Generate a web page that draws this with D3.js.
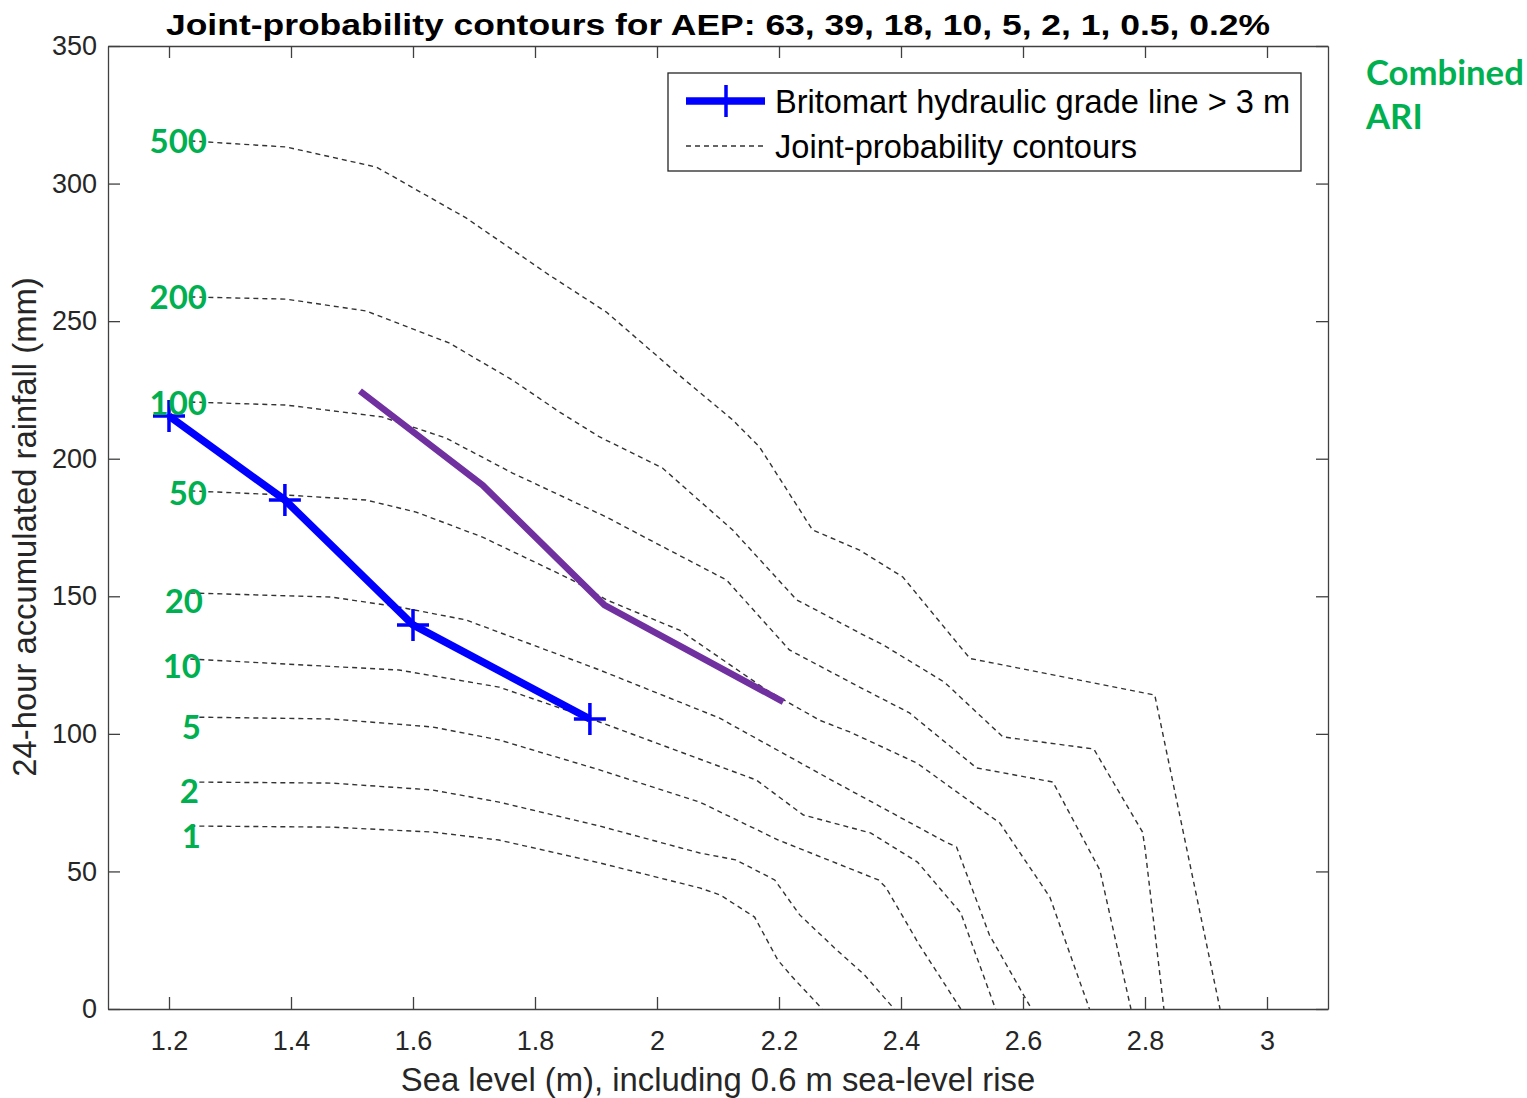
<!DOCTYPE html>
<html><head><meta charset="utf-8">
<script src="https://cdn.jsdelivr.net/npm/d3@7/dist/d3.min.js"></script>
<style>body{margin:0;background:#fff}svg{display:block}</style>
</head><body>
<svg id="chart" width="1527" height="1098"></svg>
<script>
// ---------- DATA ----------
const titleText = "Joint-probability contours for AEP: 63, 39, 18, 10, 5, 2, 1, 0.5, 0.2%";
const xLabel = "Sea level (m), including 0.6 m sea-level rise";
const yLabel = "24-hour accumulated rainfall (mm)";
const xTicks = [1.2, 1.4, 1.6, 1.8, 2, 2.2, 2.4, 2.6, 2.8, 3];
const xTickLabels = ["1.2", "1.4", "1.6", "1.8", "2", "2.2", "2.4", "2.6", "2.8", "3"];
const yTicks = [0, 50, 100, 150, 200, 250, 300, 350];
const legendLabels = ["Britomart hydraulic grade line > 3 m", "Joint-probability contours"];
const ariTitle = ["Combined", "ARI"];
const ariLabels = ["500", "200", "100", "50", "20", "10", "5", "2", "1"];

const contour500 = [[1.235,315.5],[1.392,313.3],[1.540,306.0],[1.687,287.5],[1.823,266.8],[1.917,253.3],[2.042,229.3],[2.124,214.1],[2.168,204.3],[2.255,174.1],[2.332,166.8],[2.403,157.0],[2.513,127.4],[2.816,114.1],[2.923,0]];
const contour200 = [[1.235,258.8],[1.392,258.0],[1.523,253.7],[1.659,242.1],[1.763,228.6],[1.840,217.0],[1.906,207.9],[2.009,196.6],[2.124,174.1],[2.229,148.7],[2.332,136.7],[2.371,132.3],[2.471,118.8],[2.567,98.9],[2.716,94.5],[2.796,64.3],[2.800,58.5],[2.831,0]];
const contour100 = [[1.235,220.6],[1.392,219.5],[1.549,215.2],[1.615,210.4],[1.654,207.5],[1.763,194.8],[1.840,186.8],[1.917,178.8],[1.988,170.5],[2.114,155.9],[2.217,130.5],[2.332,117.0],[2.414,107.6],[2.524,87.6],[2.649,82.5],[2.726,50.5],[2.777,0]];
const contour50 = [[1.235,188.3],[1.392,186.8],[1.523,185.0],[1.605,180.6],[1.714,171.5],[1.861,155.9],[1.917,148.7],[2.037,137.7],[2.180,115.9],[2.266,105.0],[2.316,100.7],[2.426,89.4],[2.562,67.6],[2.644,40.7],[2.709,0]];
const contour20 = [[1.235,151.2],[1.467,149.7],[1.577,146.1],[1.687,141.4],[1.840,128.7],[1.906,123.2],[2.102,105.8],[2.286,83.2],[2.473,60.7],[2.491,58.9],[2.545,26.9],[2.614,0]];
const contour10 = [[1.235,127.2],[1.577,123.2],[1.741,117.0],[1.884,106.1],[2.163,83.2],[2.240,70.5],[2.350,64.0],[2.427,53.4],[2.498,34.9],[2.555,0]];
const contour5 = [[1.235,106.1],[1.467,105.4],[1.632,102.5],[1.741,97.8],[1.906,86.9],[2.070,75.2],[2.199,61.4],[2.363,46.9],[2.375,44.3],[2.430,23.3],[2.498,0]];
const contour2 = [[1.235,82.5],[1.467,82.1],[1.632,79.6],[1.741,75.2],[1.906,66.5],[2.070,56.7],[2.129,54.2],[2.193,46.9],[2.234,34.2],[2.291,22.2],[2.340,12.4],[2.389,0]];
const contour1 = [[1.235,66.5],[1.467,66.1],[1.632,64.3],[1.741,61.4],[1.906,53.1],[2.070,44.0],[2.104,41.4],[2.160,33.4],[2.198,17.8],[2.222,11.6],[2.271,0]];

const hglSeaLevel = [1.2, 1.39, 1.6, 1.89];
const hglRainfall = [215.5, 185.0, 139.6, 105.4];
const purpleSeaLevel = [1.513, 1.714, 1.914, 2.207];
const purpleRainfall = [224.6, 190.4, 146.8, 111.6];

// ---------- LAYOUT / STYLE ----------
const contours = [contour500, contour200, contour100, contour50, contour20, contour10, contour5, contour2, contour1];
const labelNudge = [0, 0, 1, 2, 8, 7, 10, 9, 10];
const labelRight = [207, 207, 207, 207, 203, 201, 201, 199, 201];
const svg = d3.select("#chart");
const L = 108, R = 1328, T = 46, B = 1009;
const x = d3.scaleLinear().domain([1.1, 3.1]).range([L, R]);
const y = d3.scaleLinear().domain([0, 350]).range([B, T]);
const axisColor = "#404040";
const font = "'Liberation Sans', Arial, Helvetica, sans-serif";
const green = "#00B050";

svg.append("rect").attr("x", 0).attr("y", 0).attr("width", 1527).attr("height", 1098).attr("fill", "#fff");

// contours
const line = d3.line().x(d => x(d[0])).y(d => y(d[1]));
svg.append("g").selectAll("path").data(contours).join("path")
  .attr("d", line)
  .attr("fill", "none").attr("stroke", "#333").attr("stroke-width", 1.4)
  .attr("stroke-dasharray", "5,4");

// purple line
const purple = purpleSeaLevel.map((v, i) => [v, purpleRainfall[i]]);
svg.append("path").attr("d", line(purple)).attr("fill", "none")
  .attr("stroke", "#7030A0").attr("stroke-width", 6.5).attr("stroke-linejoin", "round");

// blue HGL line
const hgl = hglSeaLevel.map((v, i) => [v, hglRainfall[i]]);
svg.append("path").attr("d", line(hgl)).attr("fill", "none")
  .attr("stroke", "#0000FF").attr("stroke-width", 7.5).attr("stroke-linejoin", "miter");
const plus = 16;
svg.append("g").selectAll("path.m").data(hgl).join("path")
  .attr("d", d => `M${x(d[0]) - plus},${y(d[1])}H${x(d[0]) + plus}M${x(d[0])},${y(d[1]) - plus}V${y(d[1]) + plus}`)
  .attr("stroke", "#0000FF").attr("stroke-width", 3.5).attr("fill", "none");

// axes
const gx = svg.append("g").attr("transform", `translate(0,${B})`)
  .call(d3.axisBottom(x).tickValues(xTicks).tickFormat((d, i) => xTickLabels[i]).tickSizeInner(-12).tickSizeOuter(0).tickPadding(22));
const gxt = svg.append("g").attr("transform", `translate(0,${T})`)
  .call(d3.axisTop(x).tickValues(xTicks).tickFormat("").tickSizeInner(-12).tickSizeOuter(0));
const gy = svg.append("g").attr("transform", `translate(${L},0)`)
  .call(d3.axisLeft(y).tickValues(yTicks).tickSizeInner(-12).tickSizeOuter(0).tickPadding(11));
const gyr = svg.append("g").attr("transform", `translate(${R},0)`)
  .call(d3.axisRight(y).tickValues(yTicks).tickFormat("").tickSizeInner(-12).tickSizeOuter(0));
[gx, gxt, gy, gyr].forEach(g => {
  g.select(".domain").attr("stroke", axisColor).attr("stroke-width", 1.3);
  g.selectAll(".tick line").attr("stroke", axisColor).attr("stroke-width", 1.3);
  g.selectAll(".tick text").attr("fill", "#262626").attr("font-family", font).attr("font-size", 27);
});

// title & axis labels
svg.append("text").attr("x", 718).attr("y", 35).attr("text-anchor", "middle")
  .attr("font-family", font).attr("font-weight", "bold").attr("font-size", 29)
  .attr("textLength", 1104).attr("lengthAdjust", "spacingAndGlyphs")
  .attr("fill", "#000").text(titleText);
svg.append("text").attr("x", 718).attr("y", 1091).attr("text-anchor", "middle")
  .attr("font-family", font).attr("font-size", 32.8).attr("fill", "#262626").text(xLabel);
svg.append("text").attr("transform", "translate(36,527) rotate(-90)").attr("text-anchor", "middle")
  .attr("font-family", font).attr("font-size", 32.8).attr("fill", "#262626").text(yLabel);

// legend
const lg = svg.append("g");
lg.append("rect").attr("x", 668).attr("y", 73).attr("width", 633).attr("height", 98)
  .attr("fill", "#fff").attr("stroke", "#262626").attr("stroke-width", 1.3);
lg.append("line").attr("x1", 686).attr("x2", 765).attr("y1", 101).attr("y2", 101)
  .attr("stroke", "#0000FF").attr("stroke-width", 7.5);
lg.append("path").attr("d", `M${726 - plus},101H${726 + plus}M726,${101 - plus}V${101 + plus}`)
  .attr("stroke", "#0000FF").attr("stroke-width", 3.5);
lg.append("line").attr("x1", 686).attr("x2", 765).attr("y1", 146).attr("y2", 146)
  .attr("stroke", "#333").attr("stroke-width", 1.3).attr("stroke-dasharray", "5,4");
lg.selectAll("text").data(legendLabels).join("text")
  .attr("x", 775).attr("y", (d, i) => 113 + i * 45)
  .attr("font-family", font).attr("font-size", 32.6).attr("fill", "#000").text(d => d);

// ARI labels
svg.append("g").selectAll("text").data(ariLabels).join("text")
  .attr("x", (d, i) => labelRight[i])
  .attr("y", (d, i) => y(contours[i][0][1]) + labelNudge[i])
  .attr("dy", "0.36em").attr("text-anchor", "end")
  .attr("font-family", "Lato, 'Open Sans', sans-serif").attr("font-weight", "bold").attr("font-size", 33)
  .attr("fill", green).text(d => d);
svg.append("g").selectAll("text").data(ariTitle).join("text")
  .attr("x", 1366).attr("y", (d, i) => 85 + i * 44)
  .attr("font-family", "Lato, 'Open Sans', sans-serif").attr("font-weight", "bold").attr("font-size", 34.7)
  .attr("fill", green).text(d => d);
</script>
</body></html>
